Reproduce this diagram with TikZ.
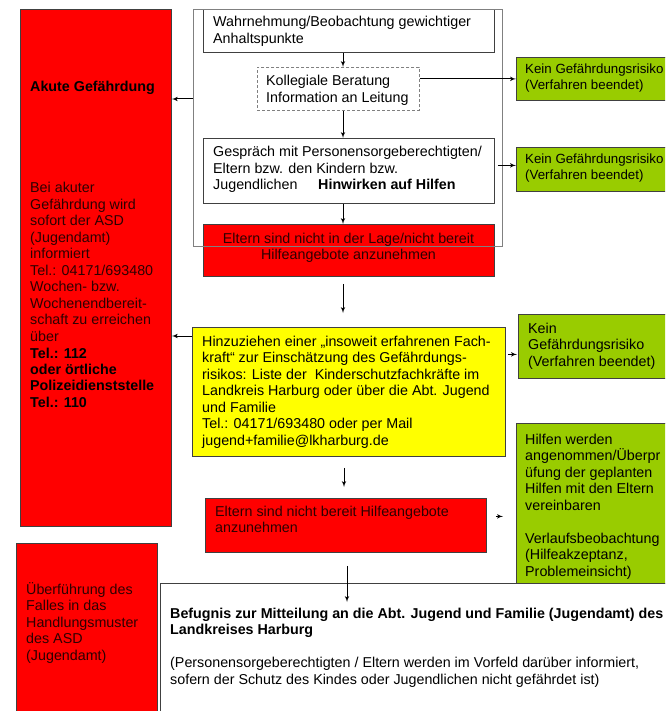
\documentclass[tikz,border=0pt]{standalone}
\usepackage{fontspec}
\setmainfont{Liberation Sans}
\usepackage{tikz}
\usetikzlibrary{arrows}
\definecolor{boxred}{RGB}{255,0,0}
\definecolor{boxgreen}{RGB}{153,204,0}
\definecolor{boxyellow}{RGB}{255,255,0}
\definecolor{edgegray}{RGB}{64,64,64}
\definecolor{framegray}{RGB}{128,128,128}
\definecolor{redtext}{RGB}{45,0,0}
\newcommand{\boxfont}{\fontsize{14.3}{16.5}\selectfont}
\newcommand{\smallboxfont}{\fontsize{13.3}{15.5}\selectfont}
\newcommand{\boxlines}[1]{\parbox[t]{600pt}{\raggedright #1}}
\tikzset{every node/.style={font=\boxfont},
      box/.style={draw=edgegray, line width=0.8pt, anchor=north west, inner sep=0pt},
      redbox/.style={box, fill=boxred},
      greenbox/.style={box, fill=boxgreen},
      yellowbox/.style={box, fill=boxyellow},
      whitebox/.style={box, fill=white},
      dashbox/.style={box, draw=framegray, dash pattern=on 3pt off 2pt},
      txt/.style={anchor=base west, inner sep=0pt},
      smalltxt/.style={txt, font=\smallboxfont},
      redtxt/.style={txt, text=redtext},
      arr/.style={->, >=latex', line width=1pt}}

\begin{document}
\begin{tikzpicture}[x=1pt,y=-1pt]
          \clip (0,0) rectangle (665,711);
          \coordinate (axis) at (343,0);

          % upper block
          \node[whitebox, minimum width=291, minimum height=43] (wahr) at (203,9) {};
          \node[txt] (wahrtxt) at (213,27) {\boxlines{Wahrnehmung/Beobachtung gewichtiger\\Anhaltspunkte}};
          \node[dashbox, minimum width=162, minimum height=43] (koll) at (257,67) {};
          \node[txt] (kolltxt) at (266,86) {\boxlines{Kollegiale Beratung\\Information an Leitung}};
          \node[whitebox, minimum width=291, minimum height=65] (gespr) at (203,138) {};
          \node[txt] (gesprtxt) at (213,157) {\boxlines{Gespräch mit Personensorgeberechtigten/\\Eltern bzw. den Kindern bzw.\\\makebox[105pt][l]{Jugendlichen}\textbf{Hinwirken auf Hilfen}}};
          \node[redbox, minimum width=291, minimum height=52] (red1) at (203,224) {};
          \node[anchor=base, inner sep=0pt, text=redtext] (red1txt) at (348.5,243) {\parbox[t]{291pt}{\centering Eltern sind nicht in der Lage/nicht bereit\\Hilfeangebote anzunehmen}};
          \node[box, draw=framegray, minimum width=309, minimum height=237] (frame) at (193,9) {};

          % left column
          \node[redbox, minimum width=151, minimum height=517] (akute) at (20,9) {};
          \node[txt] (akutetitle) at (30,92) {\textbf{Akute Gefährdung}};
          \node[redtxt] (akutetxt) at (30,193) {\boxlines{Bei akuter\\Gefährdung wird\\sofort der ASD\\(Jugendamt)\\informiert\\Tel.: 04171/693480\\Wochen- bzw.\\Wochenendbereit-\\schaft zu erreichen\\über\\{\color{black}\bfseries Tel.: 112\\oder örtliche\\Polizeidienststelle\\Tel.: 110}}};
          \node[redbox, minimum width=141, minimum height=180] (asd) at (16,543) {};
          \node[redtxt] (asdtxt) at (26,594) {\boxlines{Überführung des\\Falles in das\\Handlungsmuster\\des ASD\\(Jugendamt)}};

          % right column
          \node[greenbox, minimum width=160, minimum height=43] (kein1) at (516,57) {};
          \node[smalltxt] (kein1txt) at (525,74) {\boxlines{Kein Gefährdungsrisiko\\(Verfahren beendet)}};
          \node[greenbox, minimum width=160, minimum height=44] (kein2) at (516,147) {};
          \node[smalltxt] (kein2txt) at (525,164) {\boxlines{Kein Gefährdungsrisiko\\(Verfahren beendet)}};
          \node[greenbox, minimum width=160, minimum height=64] (kein3) at (518,314) {};
          \node[txt] (kein3txt) at (528,333) {\boxlines{Kein\\Gefährdungsrisiko\\(Verfahren beendet)}};
          \node[greenbox, minimum width=160, minimum height=160] (hilfen) at (516,423) {};
          \node[txt] (hilfentxt) at (525,444) {\boxlines{Hilfen werden\\angenommen/Überpr\\üfung der geplanten\\Hilfen mit den Eltern\\vereinbaren\\[16.5pt]Verlaufsbeobachtung\\(Hilfeakzeptanz,\\Problemeinsicht)}};

          % middle
          \node[yellowbox, minimum width=313, minimum height=129] (fach) at (192,327) {};
          \node[txt] (fachtxt) at (202,346) {\boxlines{Hinzuziehen einer „insoweit erfahrenen Fach-\\kraft“ zur Einschätzung des Gefährdungs-\\risikos: Liste der\ \ Kinderschutzfachkräfte im\\Landkreis Harburg oder über die Abt. Jugend\\und Familie\\Tel.: 04171/693480 oder per Mail\\jugend+familie@lkharburg.de}};
          \node[redbox, minimum width=281, minimum height=54] (red2) at (205,498) {};
          \node[redtxt] (red2txt) at (215,516) {\boxlines{Eltern sind nicht bereit Hilfeangebote\\anzunehmen}};
          \node[whitebox, minimum width=520, minimum height=140] (befugnis) at (160,583) {};
          \node[txt] (befugnistxt) at (170,618) {\boxlines{\textbf{Befugnis zur Mitteilung an die Abt. Jugend und Familie (Jugendamt) des}\\\textbf{Landkreises Harburg}\\[16.5pt](Personensorgeberechtigten / Eltern werden im Vorfeld darüber informiert,\\sofern der Schutz des Kindes oder Jugendlichen nicht gefährdet ist)}};

          % arrows
          \coordinate (frameout) at ([yshift=-90pt]frame.north west);
          \coordinate (fachout) at ([yshift=-9pt]fach.north west);
          \coordinate (kein2in) at ([yshift=4pt]kein2.west);
          \coordinate (kein3in) at ([yshift=-8pt]kein3.west);
          \coordinate (red2out) at ([yshift=9pt]red2.east);
          \coordinate (befugnisin) at (347,602);

          \draw[arr] (wahr.south -| axis) -- (koll.north -| axis);
          \draw[arr] (koll.south -| axis) -- (gespr.north -| axis);
          \draw[arr] (gespr.south -| axis) -- (red1.north -| axis);
          \draw[arr] (koll.east |- kein1.west) -- (kein1.west);
          \draw[arr, shorten <=3pt] (gespr.east |- kein2in) -- (kein2in);
          \draw[arr] (frameout) -- (frameout -| akute.east);
          \draw[arr, shorten <=7pt, shorten >=14pt] (red1.south -| axis) -- (fach.north -| axis);
          \draw[arr] (fachout) -- (fachout -| akute.east);
          \draw[arr, shorten <=2pt, shorten >=1pt] (kein3in -| fach.east) -- (kein3in);
          \draw[arr, shorten <=11pt, shorten >=11pt] ([xshift=1pt]fach.south -| axis) -- ([xshift=1pt]red2.north -| axis);
          \draw[arr, shorten <=9pt, shorten >=13pt] (red2out) -- (red2out -| hilfen.west);
          \draw[arr, shorten <=13pt] (red2.south -| befugnisin) -- (befugnisin);
       \end{tikzpicture}
\end{document}
